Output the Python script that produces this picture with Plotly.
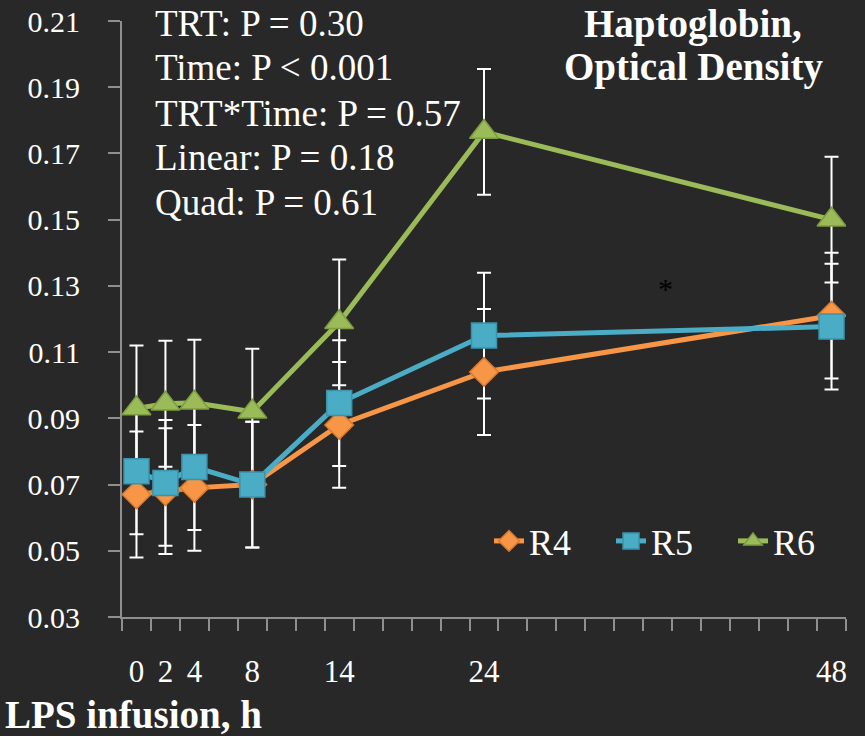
import plotly.graph_objects as go

# Sampling times after LPS infusion (h)
hours = [0, 2, 4, 8, 14, 24, 48]

# Haptoglobin optical density by treatment
r4 = [0.067, 0.068, 0.069, 0.070, 0.088, 0.104, 0.121]
r5 = [0.074, 0.0705, 0.0753, 0.070, 0.0946, 0.115, 0.1177]
r6 = [0.093, 0.0944, 0.0947, 0.092, 0.119, 0.1765, 0.150]

# Pooled standard errors
r4_se = [0.019, 0.019, 0.019, 0.019, 0.019, 0.019, 0.019]
r5_se = [0.019, 0.019, 0.019, 0.019, 0.019, 0.019, 0.019]
r6_se = [0.019, 0.019, 0.019, 0.019, 0.019, 0.019, 0.019]

x_tick_labels = ["0", "2", "4", "8", "14", "24", "48"]

stats_lines = [
    "TRT: P = 0.30",
    "Time: P < 0.001",
    "TRT*Time: P = 0.57",
    "Linear: P = 0.18",
    "Quad: P = 0.61",
]
title_lines = ["Haptoglobin,", "Optical Density"]
x_title = "LPS infusion, h"

series = [
    ("R4", r4, r4_se, "#F79646", "#D97A2B", "diamond", 22),
    ("R5", r5, r5_se, "#4BACC6", "#3A93AB", "square", 25),
    ("R6", r6, r6_se, "#9BBB59", "#7E9C42", "triangle-up", 25),
]

FONT = "Liberation Serif"
BG = "#282828"
AXIS = "#8f8f8f"

W, H = 865, 736
L, R, T, B = 122, 19, 21, 119
PLOT_H = H - T - B
PLOT_W = W - L - R


def py(y_px):
    """Pixel row to paper y."""
    return (H - B - y_px) / PLOT_H


def px(x_px):
    """Pixel column to paper x."""
    return (x_px - L) / PLOT_W


fig = go.Figure()

# Error bars underneath the markers
for name, vals, se, col, edge, sym, size in series:
    fig.add_trace(go.Scatter(
        x=hours, y=vals, mode="markers",
        marker=dict(color="rgba(0,0,0,0)", size=1),
        error_y=dict(type="data", array=se, visible=True,
                     color="white", thickness=2, width=7),
        showlegend=False, hoverinfo="skip",
    ))

for name, vals, se, col, edge, sym, size in series:
    fig.add_trace(go.Scatter(
        x=hours, y=vals, mode="lines+markers", name=name,
        line=dict(color=col, width=5),
        marker=dict(symbol=sym, size=size, color=col,
                    line=dict(color=edge, width=1.5)),
    ))

annotations = []
stat_y = [24, 68, 113, 157, 202]
for txt, yp in zip(stats_lines, stat_y):
    annotations.append(dict(
        text=txt, xref="paper", yref="paper", x=px(153), y=py(yp),
        xanchor="left", yanchor="middle", showarrow=False,
        font=dict(family=FONT, size=37, color="white"),
    ))
for txt, yp in zip(title_lines, [24, 67]):
    annotations.append(dict(
        text="<b>" + txt + "</b>", xref="paper", yref="paper",
        x=px(693), y=py(yp), xanchor="center", yanchor="middle",
        showarrow=False, font=dict(family=FONT, size=39, color="white"),
    ))
annotations.append(dict(
    text="<b>" + x_title + "</b>", xref="paper", yref="paper",
    x=px(3), y=py(714), xanchor="left", yanchor="middle", showarrow=False,
    font=dict(family=FONT, size=39, color="white"),
))
annotations.append(dict(
    text="*", xref="x", yref="y", x=36.5, y=0.1292,
    xanchor="center", yanchor="middle", showarrow=False,
    font=dict(family=FONT, size=30, color="black"),
))

fig.update_layout(
    width=W, height=H,
    margin=dict(l=L, r=R, t=T, b=B, pad=0, autoexpand=False),
    paper_bgcolor=BG, plot_bgcolor=BG,
    font=dict(family=FONT, color="white"),
    annotations=annotations,
    showlegend=True,
    legend=dict(
        orientation="h", x=px(489), y=py(541), xanchor="left",
        yanchor="middle", bgcolor="rgba(0,0,0,0)",
        font=dict(family=FONT, size=36, color="white"),
        entrywidth=77, entrywidthmode="pixels",
        traceorder="normal",
    ),
    xaxis=dict(
        range=[-1, 49], showgrid=False, zeroline=False,
        showline=True, linecolor=AXIS, linewidth=2,
        tickmode="array", tickvals=hours, ticktext=x_tick_labels,
        ticks="", ticklabelstandoff=26,
        tickfont=dict(family=FONT, size=31, color="white"),
        minor=dict(tickvals=list(range(-1, 50, 2)), ticks="outside",
                   ticklen=12, tickwidth=2, tickcolor=AXIS, showgrid=False),
    ),
    yaxis=dict(
        range=[0.03, 0.21], showgrid=False, zeroline=False,
        showline=True, linecolor=AXIS, linewidth=2,
        tick0=0.03, dtick=0.02, tickformat=".2f",
        ticks="outside", ticklen=12, tickwidth=2, tickcolor=AXIS,
        ticklabelstandoff=22,
        tickfont=dict(family=FONT, size=30, color="white"),
    ),
)

fig.write_html("out.html")
